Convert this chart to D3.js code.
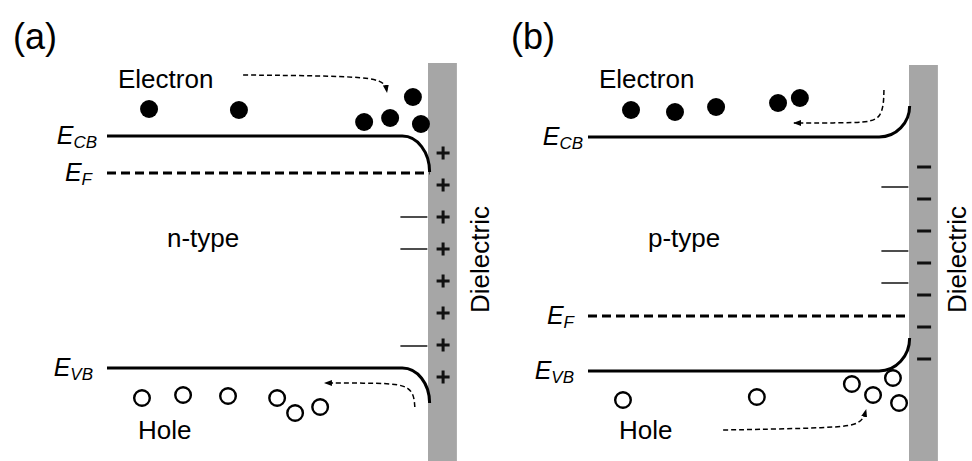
<!DOCTYPE html>
<html>
<head>
<meta charset="utf-8">
<script src="https://cdn.jsdelivr.net/npm/d3@7"></script>
<style>
  html, body { margin: 0; padding: 0; background: #fff; }
  svg { display: block; }
  text { font-family: "Liberation Sans", Arial, Helvetica, sans-serif; fill: #000; }
</style>
</head>
<body>
<script>
// Band diagrams at a semiconductor / dielectric interface.
// Positions: 0 = bulk edge, 100 = interface (a.u.). Energies in a.u. (0..100).

const panelTags = ["(a)", "(b)"];
const dopingLabels = ["n-type", "p-type"];

// Band edges far from the interface and their bending at the interface
const ecbLevel = [81.25, 81];
const efLevel = [72, 36.25];
const evbLevel = [23.25, 22.5];
const cbBend = [-9, 7.75];
const vbBend = [-8.75, 8.25];
const bendStart = [92, 90.7];

// Carriers: [position, energy]
const electronsA = [[13.1, 88], [41.1, 87.75], [80.1, 84.75], [88.2, 85.75], [95.3, 91], [97.8, 84.25]];
const electronsB = [[13.4, 87.75], [27.1, 87.25], [39.9, 88.5], [59.2, 89.5], [66.0, 90.75]];
const holesA = [[10.9, 15.75], [23.7, 16.5], [37.7, 16.25], [53.0, 15.75], [58.6, 12], [66.4, 13.5]];
const holesB = [[10.9, 15.25], [52.6, 16], [82.2, 19.25], [88.8, 16.5], [95.0, 20.75], [96.9, 14.5]];

// Interface trap levels
const trapsA = [61, 53, 28.75];
const trapsB = [68.5, 52.5, 44.5];

// Fixed charges in the dielectric
const chargesA = [77, 69, 61, 53, 45, 37, 29, 21];
const chargesB = [73.5, 65.5, 57.5, 49.5, 41.5, 33.5, 25.5];

// Carrier-flow arrows (control points, position/energy)
const arrowsA = [
  [[42.4, 96.5], [75.7, 96.25], [86.6, 95.25], [87.2, 92.25]],
  [[95.9, 13.5], [95.3, 19], [84.7, 19.5], [67.9, 19.5]]
];
const arrowsB = [
  [[92.2, 92.75], [91.9, 85.25], [84.7, 84.5], [64.2, 84.5]],
  [[42.1, 7.75], [77.0, 8.25], [85.4, 9.25], [86.6, 12.75]]
];

const W = 972, H = 461;
const svg = d3.select("body").append("svg")
  .attr("width", W).attr("height", H)
  .attr("viewBox", `0 0 ${W} ${H}`);

svg.append("rect").attr("width", W).attr("height", H).attr("fill", "#fff");

const defs = svg.append("defs");
defs.append("marker")
  .attr("id", "head")
  .attr("viewBox", "0 0 8 6")
  .attr("refX", 7).attr("refY", 3)
  .attr("markerWidth", 8).attr("markerHeight", 6)
  .attr("markerUnits", "userSpaceOnUse")
  .attr("orient", "auto")
  .append("path").attr("d", "M0,0 L8,3 L0,6 Z").attr("fill", "#000");

const y = d3.scaleLinear().domain([0, 100]).range([461, 61]);

const panels = [
  { x: d3.scaleLinear().domain([0, 100]).range([107, 428]), barTop: 99.5, bandEnd: 100.5,
    electrons: electronsA, holes: holesA, traps: trapsA, charges: chargesA, sign: "+",
    arrows: arrowsA, tagX: 13, dielX: 489, gaps: [10, 15, 14] },
  { x: d3.scaleLinear().domain([0, 100]).range([588, 909]), barTop: 99, bandEnd: 100.2,
    electrons: electronsB, holes: holesB, traps: trapsB, charges: chargesB, sign: "-",
    arrows: arrowsB, tagX: 511, dielX: 966, gaps: [5, 14, 14] }
];

function bandPath(x, level, bend, start, end) {
  const k = 0.5523;
  const x0 = x(0), xs = x(start), xe = x(end);
  const y0 = y(level), y1 = y(level + bend);
  const p = d3.path();
  p.moveTo(x0, y0);
  p.lineTo(xs, y0);
  p.bezierCurveTo(xs + k * (xe - xs), y0, xe, y1 - k * (y1 - y0), xe, y1);
  return p.toString();
}

const arrowLine = d3.line().curve(d3.curveBasis);

panels.forEach((P, i) => {
  const x = P.x;
  const g = svg.append("g");

  // dielectric layer
  g.append("rect")
    .attr("x", x(100)).attr("y", y(P.barTop))
    .attr("width", x(109) - x(100)).attr("height", y(0) - y(P.barTop))
    .attr("fill", "#a6a6a6");

  // fixed charges
  const cx = x(104.7);
  const half = P.sign === "+" ? 6.5 : 7;
  P.charges.forEach(e => {
    const cy = y(e);
    g.append("line").attr("x1", cx - half).attr("x2", cx + half).attr("y1", cy).attr("y2", cy)
      .attr("stroke", "#111").attr("stroke-width", 3);
    if (P.sign === "+") {
      g.append("line").attr("x1", cx).attr("x2", cx).attr("y1", cy - half).attr("y2", cy + half)
        .attr("stroke", "#111").attr("stroke-width", 3);
    }
  });

  // trap levels
  g.selectAll(".trap").data(P.traps).join("line")
    .attr("x1", x(91.4)).attr("x2", x(99.8))
    .attr("y1", d => y(d)).attr("y2", d => y(d))
    .attr("stroke", "#000").attr("stroke-width", 1.4);

  // bands
  g.append("path").attr("d", bandPath(x, ecbLevel[i], cbBend[i], bendStart[i], P.bandEnd))
    .attr("fill", "none").attr("stroke", "#000").attr("stroke-width", 3);
  g.append("path").attr("d", bandPath(x, evbLevel[i], vbBend[i], bendStart[i], P.bandEnd))
    .attr("fill", "none").attr("stroke", "#000").attr("stroke-width", 3);
  g.append("line")
    .attr("x1", x(0)).attr("x2", x(P.bandEnd))
    .attr("y1", y(efLevel[i])).attr("y2", y(efLevel[i]))
    .attr("stroke", "#000").attr("stroke-width", 3).attr("stroke-dasharray", "9,5");

  // carriers
  g.selectAll(".el").data(P.electrons).join("circle")
    .attr("cx", d => x(d[0])).attr("cy", d => y(d[1])).attr("r", 9)
    .attr("fill", "#000");
  g.selectAll(".ho").data(P.holes).join("circle")
    .attr("cx", d => x(d[0])).attr("cy", d => y(d[1])).attr("r", 7.8)
    .attr("fill", "#fff").attr("stroke", "#000").attr("stroke-width", 2.4);

  // arrows
  P.arrows.forEach(pts => {
    g.append("path")
      .attr("d", arrowLine(pts.map(d => [x(d[0]), y(d[1])])))
      .attr("fill", "none").attr("stroke", "#000").attr("stroke-width", 1.5)
      .attr("stroke-dasharray", "5,3")
      .attr("marker-end", "url(#head)");
  });

  // labels
  g.append("text").attr("x", P.tagX).attr("y", 49).attr("font-size", 36).text(panelTags[i]);
  g.append("text").attr("x", x(0) + 11).attr("y", 87.5).attr("font-size", 26).text("Electron");
  g.append("text").attr("x", x(0) + 60).attr("y", 247).attr("font-size", 26).text(dopingLabels[i]);
  g.append("text").attr("x", x(0) + 31).attr("y", 438.5).attr("font-size", 26).text("Hole");
  g.append("text")
    .attr("transform", `translate(${P.dielX},313) rotate(-90)`)
    .attr("font-size", 26).text("Dielectric");

  const levels = [[ecbLevel[i], "CB"], [efLevel[i], "F"], [evbLevel[i], "VB"]];
  levels.forEach(([lv, sub], j) => {
    const t = g.append("text")
      .attr("x", x(0) - P.gaps[j]).attr("y", y(lv) + 8)
      .attr("text-anchor", "end").attr("font-style", "italic");
    t.append("tspan").attr("font-size", 25).text("E");
    t.append("tspan").attr("font-size", 17).attr("dy", 4).text(sub);
  });
});
</script>
</body>
</html>
